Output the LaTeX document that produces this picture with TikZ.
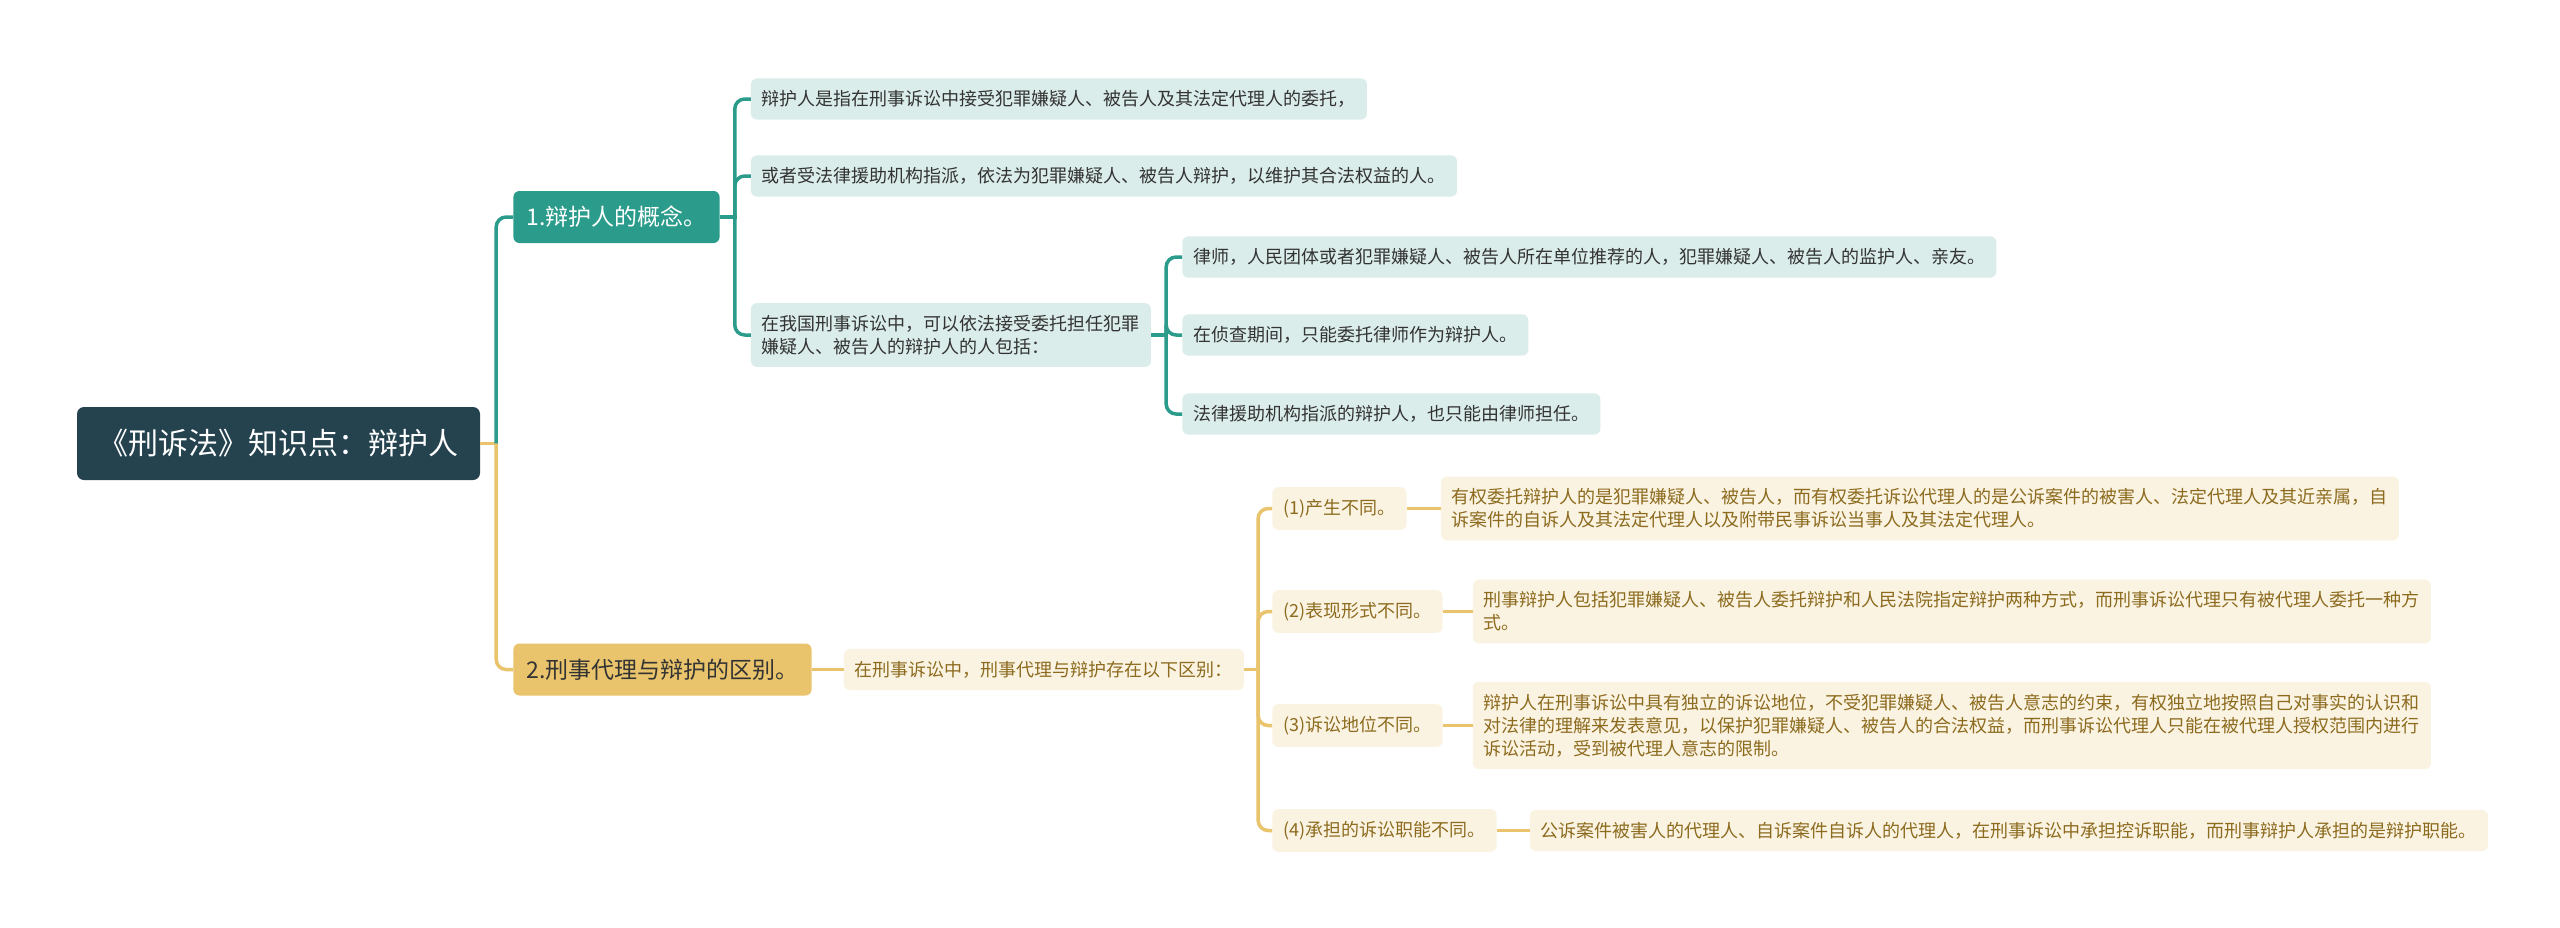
\documentclass[tikz,border=0pt]{standalone}
\usepackage{fontspec}
\setmainfont{Noto Sans CJK SC}
\usepackage{tikz}
\usetikzlibrary{positioning}

\definecolor{rootfill}{HTML}{25434F}
\definecolor{tealdark}{HTML}{2B9C8B}
\definecolor{teallight}{HTML}{DAEDEA}
\definecolor{golddark}{HTML}{E9C46C}
\definecolor{goldlight}{HTML}{FBF3E2}
\definecolor{goldtext}{HTML}{8C6B1E}
\definecolor{leaftext}{HTML}{333333}

\begin{document}
\begin{tikzpicture}[
    node distance=32pt,
    rootbox/.style={
        fill=rootfill,
        text=white,
        rounded corners=7pt,
        minimum width=403pt,
        minimum height=73pt,
        font=\fontsize{30pt}{36pt}\selectfont
    },
    topic/.style={
        rounded corners=6pt,
        inner xsep=13pt,
        minimum height=52pt,
        font=\fontsize{23pt}{28pt}\selectfont
    },
    leaf/.style={
        rounded corners=6pt,
        align=left,
        inner xsep=11pt,
        inner ysep=12pt,
        minimum height=40pt,
        font=\fontsize{18pt}{23pt}\selectfont
    },
    tealtopic/.style={topic, fill=tealdark, text=white},
    goldtopic/.style={topic, fill=golddark, text=leaftext},
    tealleaf/.style={leaf, fill=teallight, text=leaftext},
    goldleaf/.style={leaf, fill=goldlight, text=goldtext},
    tline/.style={draw=tealdark, line width=3.5pt},
    gline/.style={draw=golddark, line width=3.5pt},
    elbow/.style={rounded corners=10pt}
]

\fill[white] (0,0) rectangle (2560pt,-927pt);

\node[rootbox] (root) at (278.5pt,-443.5pt) {《刑诉法》知识点：辩护人};

% branch 1
\node[tealtopic, right=33pt of root, yshift=226.5pt] (b1) {1.辩护人的概念。};

\node[tealleaf, right=31pt of b1, yshift=118pt] (c1)
{辩护人是指在刑事诉讼中接受犯罪嫌疑人、被告人及其法定代理人的委托，};
\node[tealleaf, right=31pt of b1, yshift=41pt] (c2)
{或者受法律援助机构指派，依法为犯罪嫌疑人、被告人辩护，以维护其合法权益的人。};
\node[tealleaf, right=31pt of b1, yshift=-118pt] (c3)
{在我国刑事诉讼中，可以依法接受委托担任犯罪\\嫌疑人、被告人的辩护人的人包括：};

\node[tealleaf, right=31pt of c3, yshift=78pt] (g1)
{律师，人民团体或者犯罪嫌疑人、被告人所在单位推荐的人，犯罪嫌疑人、被告人的监护人、亲友。};
\node[tealleaf, right=31pt of c3] (g2)
{在侦查期间，只能委托律师作为辩护人。};
\node[tealleaf, right=31pt of c3, yshift=-79pt] (g3)
{法律援助机构指派的辩护人，也只能由律师担任。};

% branch 2
\node[goldtopic, right=33pt of root, yshift=-226pt] (b2) {2.刑事代理与辩护的区别。};

\node[goldleaf, right=32pt of b2] (b2c)
{在刑事诉讼中，刑事代理与辩护存在以下区别：};

\node[goldleaf, right=28pt of b2c, yshift=161pt] (s1) {(1)产生不同。};
\node[goldleaf, right=28pt of b2c, yshift=58pt] (s2) {(2)表现形式不同。};
\node[goldleaf, right=28pt of b2c, yshift=-56pt] (s3) {(3)诉讼地位不同。};
\node[goldleaf, right=28pt of b2c, yshift=-161pt] (s4) {(4)承担的诉讼职能不同。};

\node[goldleaf, right=34pt of s1] (d1)
{有权委托辩护人的是犯罪嫌疑人、被告人，而有权委托诉讼代理人的是公诉案件的被害人、法定代理人及其近亲属，自\\诉案件的自诉人及其法定代理人以及附带民事诉讼当事人及其法定代理人。};
\node[goldleaf, right=30pt of s2] (d2)
{刑事辩护人包括犯罪嫌疑人、被告人委托辩护和人民法院指定辩护两种方式，而刑事诉讼代理只有被代理人委托一种方\\式。};
\node[goldleaf, right=30pt of s3] (d3)
{辩护人在刑事诉讼中具有独立的诉讼地位，不受犯罪嫌疑人、被告人意志的约束，有权独立地按照自己对事实的认识和\\对法律的理解来发表意见，以保护犯罪嫌疑人、被告人的合法权益，而刑事诉讼代理人只能在被代理人授权范围内进行\\诉讼活动，受到被代理人意志的限制。};
\node[goldleaf, right=33pt of s4] (d4)
{公诉案件被害人的代理人、自诉案件自诉人的代理人，在刑事诉讼中承担控诉职能，而刑事辩护人承担的是辩护职能。};

% connectors
\draw[gline] (root.east) -- ++(17.75pt,0);
\draw[tline, elbow] ([xshift=16pt]root.east) |- (b1.west);
\draw[gline, elbow] ([xshift=16pt]root.east) |- (b2.west);

\draw[tline] (b1.east) -- ++(17pt,0);
\foreach \c in {c1,c2,c3}
    \draw[tline, elbow] ([xshift=15pt]b1.east) |- (\c.west);

\draw[tline] (c3.east) -- ++(17pt,0);
\foreach \g in {g1,g2,g3}
    \draw[tline, elbow] ([xshift=15pt]c3.east) |- (\g.west);

\draw[gline] (b2) -- (b2c);
\draw[gline] (b2c.east) -- ++(15.75pt,0);
\foreach \s in {s1,s2,s3,s4}
    \draw[gline, elbow] ([xshift=14pt]b2c.east) |- (\s.west);

\foreach \s/\d in {s1/d1,s2/d2,s3/d3,s4/d4}
    \draw[gline] (\s) -- (\d);

\end{tikzpicture}
\end{document}
